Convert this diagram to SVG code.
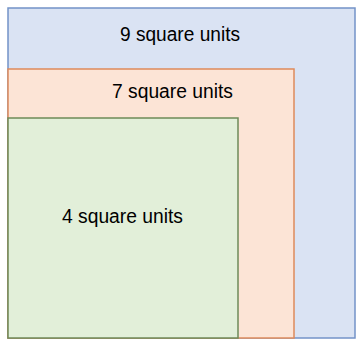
<svg xmlns="http://www.w3.org/2000/svg" width="359" height="349" viewBox="0 0 359 349">
<style>
text{font-family:"Liberation Sans",Arial,sans-serif;font-size:19.5px;fill:#000;}
.b{fill:#dae3f3;stroke:#7393c8;stroke-width:1.5}
.o{fill:#fce4d6;stroke:#de8b5b;stroke-width:1.5}
.g{fill:#e2efd9;stroke:#6e8a58;stroke-width:1.5}
</style>
<rect width="359" height="349" fill="#fff"/>
<g id="nine"><rect class="b" x="8" y="8" width="347" height="330"/>
<text x="120" y="41" textLength="120" lengthAdjust="spacingAndGlyphs">9 square units</text></g>
<g id="seven"><rect class="o" x="8" y="69" width="286" height="269"/>
<text x="112" y="98" textLength="121" lengthAdjust="spacingAndGlyphs">7 square units</text></g>
<g id="four"><rect class="g" x="8" y="118" width="230" height="220"/>
<text x="62" y="223" textLength="121" lengthAdjust="spacingAndGlyphs">4 square units</text></g>
<g id="connectors"/>
</svg>
